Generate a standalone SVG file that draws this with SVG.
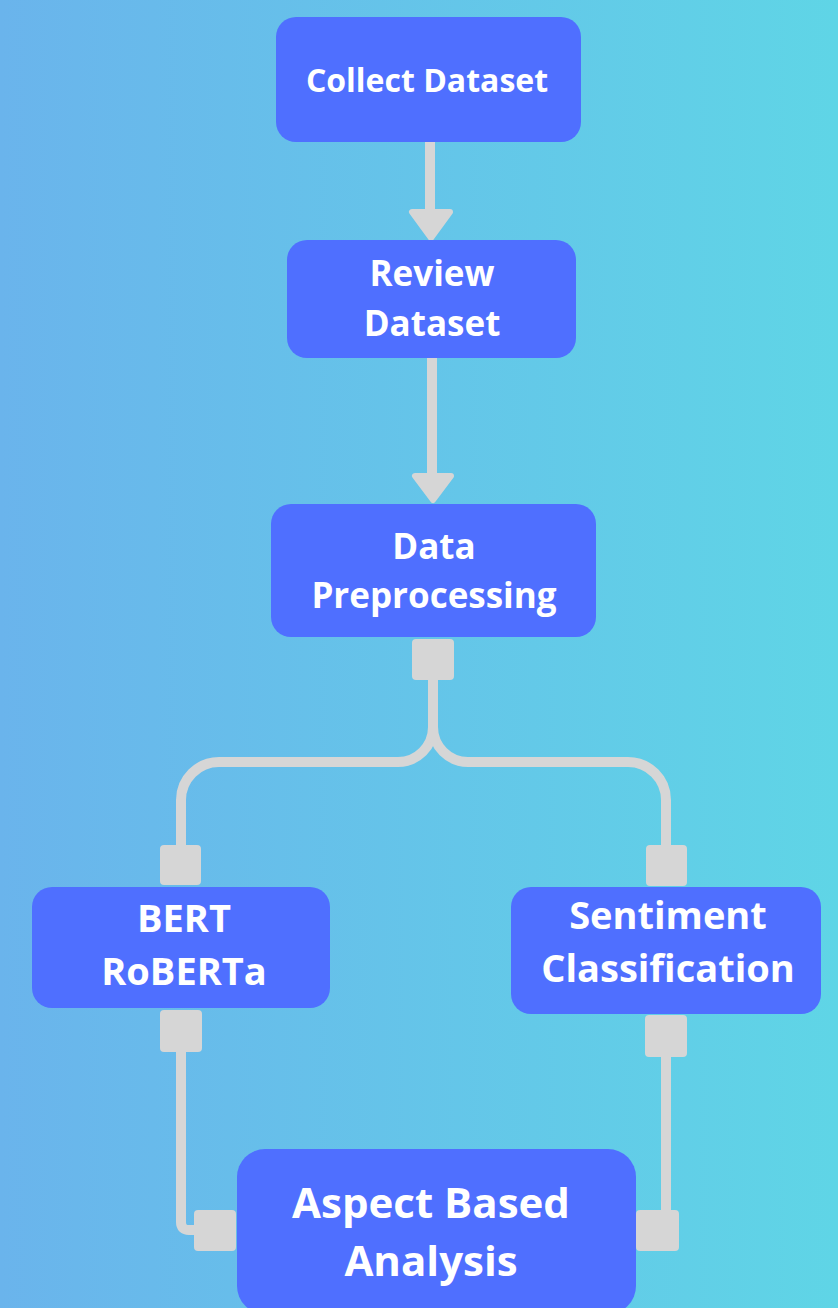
<svg xmlns="http://www.w3.org/2000/svg" width="838" height="1308" viewBox="0 0 838 1308">
  <defs>
    <linearGradient id="bg" x1="0" y1="0" x2="1" y2="0">
      <stop offset="0" stop-color="#6ab4ec"/>
      <stop offset="1" stop-color="#5fd5e6"/>
    </linearGradient>
    <style>
      .node { fill: #4f6fff; }
      .label { font-family: "Open Sans", "Liberation Sans", sans-serif; font-weight: 700; fill: #ffffff; text-anchor: middle; font-size: 32px; }
      .m { font-size: 35px; }
      .l { font-size: 38px; }
      .big { font-size: 42px; }
      .line { fill: none; stroke: #d6d6d6; stroke-width: 10; }
      .head { fill: #d6d6d6; stroke: #d6d6d6; stroke-width: 6; stroke-linejoin: round; }
      .port { fill: #d6d6d6; }
    </style>
  </defs>
  <rect x="0" y="0" width="838" height="1308" fill="url(#bg)"/>

  <g id="connectors">
    <path class="line" d="M430,142 V212"/>
    <path class="head" d="M412,212 L450,212 L431,238 Z"/>
    <path class="line" d="M432,358 V476"/>
    <path class="head" d="M415,476 L451,476 L433,500 Z"/>
    <path class="line" d="M433,680 V727 A35,35 0 0 1 398,762 H219 A38,38 0 0 0 181,800 V845"/>
    <path class="line" d="M433,727 A35,35 0 0 0 468,762 H628 A38,38 0 0 1 666,800 V845"/>
    <path class="line" d="M181,1052 V1222 Q181,1230 189,1230 H200"/>
    <path class="line" d="M666,1057 V1212"/>
    <rect class="port" x="412" y="639" width="42" height="41" rx="4"/>
    <rect class="port" x="160" y="845" width="41" height="40" rx="4"/>
    <rect class="port" x="646" y="845" width="41" height="41" rx="4"/>
    <rect class="port" x="160" y="1010" width="42" height="42" rx="4"/>
    <rect class="port" x="645" y="1015" width="42" height="42" rx="4"/>
    <rect class="port" x="194" y="1210" width="42" height="41" rx="4"/>
    <rect class="port" x="636" y="1210" width="43" height="41" rx="4"/>
  </g>

  <g id="collect">
    <rect class="node" x="276" y="17" width="305" height="125" rx="20"/>
    <text class="label" x="427" y="92">Collect Dataset</text>
  </g>
  <g id="review">
    <rect class="node" x="287" y="240" width="289" height="118" rx="20"/>
    <text class="label m" x="432" y="286">Review</text>
    <text class="label m" x="432" y="336">Dataset</text>
  </g>
  <g id="preprocess">
    <rect class="node" x="271" y="504" width="325" height="133" rx="20"/>
    <text class="label m" x="434" y="559">Data</text>
    <text class="label m" x="434" y="608">Preprocessing</text>
  </g>
  <g id="bert">
    <rect class="node" x="32" y="887" width="298" height="121" rx="20"/>
    <text class="label l" x="184" y="932">BERT</text>
    <text class="label l" x="184" y="985">RoBERTa</text>
  </g>
  <g id="sentiment">
    <rect class="node" x="511" y="887" width="310" height="127" rx="20"/>
    <text class="label l" x="668" y="929">Sentiment</text>
    <text class="label l" x="668" y="982">Classification</text>
  </g>
  <g id="aspect">
    <rect class="node" x="237" y="1149" width="399" height="165" rx="28"/>
    <text class="label big" x="431" y="1218">Aspect Based</text>
    <text class="label big" x="431" y="1276">Analysis</text>
  </g>
</svg>
